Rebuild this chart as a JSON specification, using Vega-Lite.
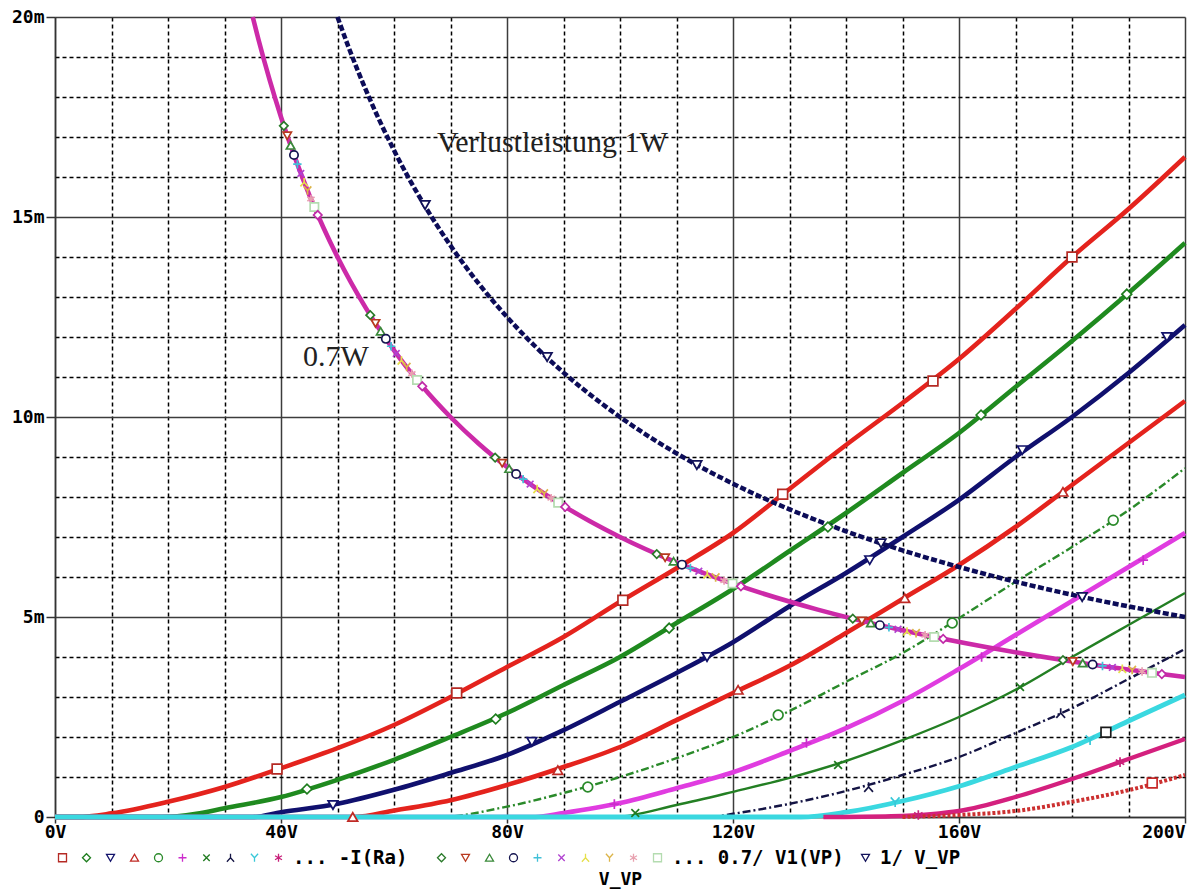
{
  "$schema": "https://vega.github.io/schema/vega-lite/v6.json",
  "width": 1130,
  "height": 800,
  "autosize": {"type": "none"},
  "padding": {"left": 55, "top": 17, "right": 6, "bottom": 77},
  "background": "white",
  "config": {"view": {"stroke": null}, "font": "DejaVu Sans Mono"},
  "datasets": {
    "curves": [
      {"s":"c1","V":0,"I":0},{"s":"c1","V":4,"I":0},{"s":"c1","V":10,"I":0.09},{"s":"c1","V":20,"I":0.38},{"s":"c1","V":30,"I":0.75},{"s":"c1","V":40,"I":1.22},{"s":"c1","V":50,"I":1.72},{"s":"c1","V":60,"I":2.3},{"s":"c1","V":70,"I":3.0},{"s":"c1","V":80,"I":3.75},{"s":"c1","V":90,"I":4.5},{"s":"c1","V":100,"I":5.38},{"s":"c1","V":110,"I":6.22},{"s":"c1","V":120,"I":7.1},{"s":"c1","V":130,"I":8.2},{"s":"c1","V":140,"I":9.3},{"s":"c1","V":150,"I":10.35},{"s":"c1","V":160,"I":11.45},{"s":"c1","V":170,"I":12.7},{"s":"c1","V":180,"I":14.0},{"s":"c1","V":190,"I":15.2},{"s":"c1","V":200,"I":16.5},
      {"s":"c2","V":0,"I":0},{"s":"c2","V":19,"I":0},{"s":"c2","V":25,"I":0.08},{"s":"c2","V":30,"I":0.22},{"s":"c2","V":40,"I":0.5},{"s":"c2","V":50,"I":0.93},{"s":"c2","V":60,"I":1.43},{"s":"c2","V":70,"I":2.0},{"s":"c2","V":80,"I":2.6},{"s":"c2","V":90,"I":3.3},{"s":"c2","V":100,"I":4.0},{"s":"c2","V":110,"I":4.85},{"s":"c2","V":120,"I":5.7},{"s":"c2","V":130,"I":6.65},{"s":"c2","V":140,"I":7.6},{"s":"c2","V":150,"I":8.6},{"s":"c2","V":160,"I":9.6},{"s":"c2","V":170,"I":10.75},{"s":"c2","V":180,"I":11.9},{"s":"c2","V":190,"I":13.1},{"s":"c2","V":200,"I":14.35},
      {"s":"c3","V":0,"I":0},{"s":"c3","V":35,"I":0},{"s":"c3","V":40,"I":0.12},{"s":"c3","V":50,"I":0.33},{"s":"c3","V":60,"I":0.68},{"s":"c3","V":70,"I":1.1},{"s":"c3","V":80,"I":1.55},{"s":"c3","V":90,"I":2.17},{"s":"c3","V":100,"I":2.88},{"s":"c3","V":110,"I":3.6},{"s":"c3","V":120,"I":4.37},{"s":"c3","V":130,"I":5.27},{"s":"c3","V":140,"I":6.1},{"s":"c3","V":150,"I":7.0},{"s":"c3","V":160,"I":7.93},{"s":"c3","V":170,"I":9.0},{"s":"c3","V":180,"I":10.0},{"s":"c3","V":190,"I":11.1},{"s":"c3","V":200,"I":12.3},
      {"s":"c4","V":0,"I":0},{"s":"c4","V":53,"I":0},{"s":"c4","V":60,"I":0.16},{"s":"c4","V":70,"I":0.42},{"s":"c4","V":80,"I":0.8},{"s":"c4","V":90,"I":1.25},{"s":"c4","V":100,"I":1.75},{"s":"c4","V":110,"I":2.42},{"s":"c4","V":120,"I":3.1},{"s":"c4","V":130,"I":3.78},{"s":"c4","V":140,"I":4.6},{"s":"c4","V":150,"I":5.45},{"s":"c4","V":160,"I":6.3},{"s":"c4","V":170,"I":7.25},{"s":"c4","V":180,"I":8.3},{"s":"c4","V":190,"I":9.35},{"s":"c4","V":200,"I":10.4},
      {"s":"c5","V":0,"I":0},{"s":"c5","V":68,"I":0},{"s":"c5","V":80,"I":0.26},{"s":"c5","V":90,"I":0.6},{"s":"c5","V":100,"I":1.0},{"s":"c5","V":110,"I":1.47},{"s":"c5","V":120,"I":2.0},{"s":"c5","V":130,"I":2.65},{"s":"c5","V":140,"I":3.38},{"s":"c5","V":150,"I":4.1},{"s":"c5","V":160,"I":4.97},{"s":"c5","V":170,"I":5.88},{"s":"c5","V":180,"I":6.75},{"s":"c5","V":190,"I":7.67},{"s":"c5","V":200,"I":8.72},
      {"s":"c6","V":0,"I":0},{"s":"c6","V":85,"I":0},{"s":"c6","V":90,"I":0.1},{"s":"c6","V":100,"I":0.35},{"s":"c6","V":110,"I":0.72},{"s":"c6","V":120,"I":1.12},{"s":"c6","V":130,"I":1.65},{"s":"c6","V":140,"I":2.22},{"s":"c6","V":150,"I":2.9},{"s":"c6","V":160,"I":3.7},{"s":"c6","V":170,"I":4.55},{"s":"c6","V":180,"I":5.4},{"s":"c6","V":190,"I":6.25},{"s":"c6","V":200,"I":7.1},
      {"s":"c7","V":0,"I":0},{"s":"c7","V":99,"I":0},{"s":"c7","V":110,"I":0.3},{"s":"c7","V":120,"I":0.63},{"s":"c7","V":130,"I":0.98},{"s":"c7","V":140,"I":1.4},{"s":"c7","V":150,"I":1.92},{"s":"c7","V":160,"I":2.5},{"s":"c7","V":170,"I":3.18},{"s":"c7","V":180,"I":4.0},{"s":"c7","V":190,"I":4.8},{"s":"c7","V":200,"I":5.6},
      {"s":"c8","V":0,"I":0},{"s":"c8","V":116,"I":0},{"s":"c8","V":120,"I":0.08},{"s":"c8","V":130,"I":0.33},{"s":"c8","V":140,"I":0.65},{"s":"c8","V":150,"I":1.05},{"s":"c8","V":160,"I":1.5},{"s":"c8","V":170,"I":2.1},{"s":"c8","V":180,"I":2.72},{"s":"c8","V":190,"I":3.45},{"s":"c8","V":200,"I":4.2},
      {"s":"c9","V":0,"I":0},{"s":"c9","V":132,"I":0},{"s":"c9","V":140,"I":0.12},{"s":"c9","V":150,"I":0.4},{"s":"c9","V":160,"I":0.77},{"s":"c9","V":170,"I":1.25},{"s":"c9","V":180,"I":1.75},{"s":"c9","V":190,"I":2.4},{"s":"c9","V":200,"I":3.05},
      {"s":"c10","V":136,"I":0},{"s":"c10","V":148,"I":0.02},{"s":"c10","V":155,"I":0.07},{"s":"c10","V":160,"I":0.15},{"s":"c10","V":170,"I":0.5},{"s":"c10","V":180,"I":0.95},{"s":"c10","V":190,"I":1.45},{"s":"c10","V":200,"I":1.95},
      {"s":"c11","V":150,"I":0},{"s":"c11","V":160,"I":0.05},{"s":"c11","V":170,"I":0.15},{"s":"c11","V":180,"I":0.38},{"s":"c11","V":190,"I":0.67},{"s":"c11","V":200,"I":1.05},
      {"s":"p11","V":35,"I":20},{"s":"p11","V":36,"I":19.444},{"s":"p11","V":38,"I":18.421},{"s":"p11","V":40,"I":17.5},{"s":"p11","V":42.5,"I":16.471},{"s":"p11","V":45,"I":15.556},{"s":"p11","V":47.5,"I":14.737},{"s":"p11","V":50,"I":14},{"s":"p11","V":55,"I":12.727},{"s":"p11","V":60,"I":11.667},{"s":"p11","V":65,"I":10.769},{"s":"p11","V":70,"I":10},{"s":"p11","V":75,"I":9.333},{"s":"p11","V":80,"I":8.75},{"s":"p11","V":90,"I":7.778},{"s":"p11","V":100,"I":7},{"s":"p11","V":110,"I":6.364},{"s":"p11","V":120,"I":5.833},{"s":"p11","V":135,"I":5.185},{"s":"p11","V":150,"I":4.667},{"s":"p11","V":165,"I":4.242},{"s":"p11","V":180,"I":3.889},{"s":"p11","V":200,"I":3.5},
      {"s":"w","V":50,"I":20},{"s":"w","V":52,"I":19.231},{"s":"w","V":55,"I":18.182},{"s":"w","V":60,"I":16.667},{"s":"w","V":65,"I":15.385},{"s":"w","V":70,"I":14.286},{"s":"w","V":75,"I":13.333},{"s":"w","V":80,"I":12.5},{"s":"w","V":90,"I":11.111},{"s":"w","V":100,"I":10},{"s":"w","V":110,"I":9.091},{"s":"w","V":120,"I":8.333},{"s":"w","V":130,"I":7.692},{"s":"w","V":140,"I":7.143},{"s":"w","V":150,"I":6.667},{"s":"w","V":165,"I":6.061},{"s":"w","V":180,"I":5.556},{"s":"w","V":200,"I":5}
    ],
    "markers": [
      {"s":"c1","V":39.3,"I":1.2},{"s":"c1","V":71.1,"I":3.1},{"s":"c1","V":100.5,"I":5.42},{"s":"c1","V":128.8,"I":8.07},{"s":"c1","V":155.4,"I":10.9},{"s":"c1","V":180,"I":14.0},
      {"s":"c2","V":44.6,"I":0.7},{"s":"c2","V":78,"I":2.45},{"s":"c2","V":108.7,"I":4.72},{"s":"c2","V":136.8,"I":7.25},{"s":"c2","V":163.9,"I":10.05},{"s":"c2","V":189.7,"I":13.07},
      {"s":"c3","V":49.2,"I":0.3},{"s":"c3","V":84.4,"I":1.88},{"s":"c3","V":115.4,"I":4.0},{"s":"c3","V":144.2,"I":6.42},{"s":"c3","V":171.2,"I":9.17},{"s":"c3","V":196.8,"I":12.0},
      {"s":"c4","V":52.7,"I":0},{"s":"c4","V":89,"I":1.17},{"s":"c4","V":120.9,"I":3.18},{"s":"c4","V":150.4,"I":5.47},{"s":"c4","V":178.4,"I":8.13},
      {"s":"c5","V":94.3,"I":0.75},{"s":"c5","V":128,"I":2.55},{"s":"c5","V":158.8,"I":4.85},{"s":"c5","V":187.3,"I":7.42},
      {"s":"c6","V":99,"I":0.32},{"s":"c6","V":133,"I":1.85},{"s":"c6","V":164,"I":4.0},{"s":"c6","V":192.6,"I":6.42},
      {"s":"c7","V":102.7,"I":0.1},{"s":"c7","V":138.6,"I":1.3},{"s":"c7","V":170.8,"I":3.25},
      {"s":"c8","V":144,"I":0.75},{"s":"c8","V":178,"I":2.6},
      {"s":"c9","V":148.7,"I":0.37},{"s":"c9","V":183.2,"I":1.92},
      {"s":"c10","V":152.8,"I":0.05},{"s":"c10","V":188.5,"I":1.37},
      {"s":"c11","V":194.2,"I":0.85},
      {"s":"blk","V":186,"I":2.12},
      {"s":"w","V":65.5,"I":15.3},{"s":"w","V":87.1,"I":11.5},{"s":"w","V":113.6,"I":8.8},{"s":"w","V":146.2,"I":6.84},{"s":"w","V":181.8,"I":5.5},
      {"s":"p1","V":40.5,"I":17.28},{"s":"p2","V":41.1,"I":17.03},{"s":"p3","V":41.7,"I":16.79},{"s":"p4","V":42.3,"I":16.55},{"s":"p5","V":42.9,"I":16.32},{"s":"p6","V":43.5,"I":16.09},{"s":"p7","V":44.1,"I":15.87},{"s":"p8","V":44.7,"I":15.66},{"s":"p9","V":45.3,"I":15.45},{"s":"p10","V":45.9,"I":15.25},{"s":"p11","V":46.5,"I":15.05},
      {"s":"p1","V":55.8,"I":12.545},{"s":"p2","V":56.72,"I":12.341},{"s":"p3","V":57.64,"I":12.144},{"s":"p4","V":58.56,"I":11.954},{"s":"p5","V":59.48,"I":11.769},{"s":"p6","V":60.4,"I":11.589},{"s":"p7","V":61.32,"I":11.415},{"s":"p8","V":62.24,"I":11.247},{"s":"p9","V":63.16,"I":11.083},{"s":"p10","V":64.08,"I":10.924},{"s":"p11","V":65.0,"I":10.769},
      {"s":"p1","V":77.9,"I":8.986},{"s":"p2","V":79.14,"I":8.845},{"s":"p3","V":80.38,"I":8.709},{"s":"p4","V":81.62,"I":8.576},{"s":"p5","V":82.86,"I":8.448},{"s":"p6","V":84.1,"I":8.323},{"s":"p7","V":85.34,"I":8.203},{"s":"p8","V":86.58,"I":8.085},{"s":"p9","V":87.82,"I":7.971},{"s":"p10","V":89.06,"I":7.86},{"s":"p11","V":90.3,"I":7.752},
      {"s":"p1","V":106.5,"I":6.573},{"s":"p2","V":107.99,"I":6.482},{"s":"p3","V":109.48,"I":6.394},{"s":"p4","V":110.97,"I":6.308},{"s":"p5","V":112.46,"I":6.224},{"s":"p6","V":113.95,"I":6.143},{"s":"p7","V":115.44,"I":6.064},{"s":"p8","V":116.93,"I":5.986},{"s":"p9","V":118.42,"I":5.911},{"s":"p10","V":119.91,"I":5.838},{"s":"p11","V":121.4,"I":5.766},
      {"s":"p1","V":141.2,"I":4.958},{"s":"p2","V":142.8,"I":4.902},{"s":"p3","V":144.4,"I":4.848},{"s":"p4","V":146.0,"I":4.795},{"s":"p5","V":147.6,"I":4.743},{"s":"p6","V":149.2,"I":4.692},{"s":"p7","V":150.8,"I":4.642},{"s":"p8","V":152.4,"I":4.593},{"s":"p9","V":154.0,"I":4.545},{"s":"p10","V":155.6,"I":4.499},{"s":"p11","V":157.2,"I":4.453},
      {"s":"p1","V":178.4,"I":3.924},{"s":"p2","V":180.15,"I":3.886},{"s":"p3","V":181.9,"I":3.848},{"s":"p4","V":183.65,"I":3.812},{"s":"p5","V":185.4,"I":3.776},{"s":"p6","V":187.15,"I":3.74},{"s":"p7","V":188.9,"I":3.706},{"s":"p8","V":190.65,"I":3.672},{"s":"p9","V":192.4,"I":3.638},{"s":"p10","V":194.15,"I":3.605},{"s":"p11","V":195.9,"I":3.573}
    ],
    "notes": [
      {"V":67.6,"I":16.625,"label":"Verlustleistung 1W"},
      {"V":43.9,"I":11.275,"label":"0.7W"}
    ]
  },
  "encoding": {
    "x": {
      "field": "V", "type": "quantitative",
      "scale": {"domain": [0, 200], "nice": false, "zero": false},
      "axis": {
        "values": [0,10,20,30,40,50,60,70,80,90,100,110,120,130,140,150,160,170,180,190,200],
        "labelExpr": "datum.value % 40 === 0 ? datum.value + 'V' : ''",
        "labelFont": "DejaVu Sans Mono", "labelFontWeight": "bold", "labelFontSize": 18, "labelColor": "black",
        "labelAlign": {"condition": {"test": "datum.value === 200", "value": "right"}, "value": "center"},
        "labelBaseline": "top", "labelPadding": 0, "labelOverlap": false, "labelFlush": false, "labelBound": false,
        "tickSize": {"condition": {"test": "datum.value % 40 === 0", "value": 6}, "value": 0},
        "tickColor": "#333333", "tickWidth": 1.5,
        "grid": true,
        "gridColor": {"condition": {"test": "datum.value % 40 === 0", "value": "#3c3c3c"}, "value": "#000000"},
        "gridDash": {"condition": {"test": "datum.value % 40 === 0", "value": []}, "value": [4, 3]},
        "gridWidth": 1.5, "gridOpacity": 1,
        "domain": true, "domainColor": "#333333", "domainWidth": 1.5,
        "title": "V_VP", "titleFont": "DejaVu Sans Mono", "titleFontWeight": "bold", "titleFontSize": 18, "titleColor": "black", "titlePadding": 29
      }
    },
    "y": {
      "field": "I", "type": "quantitative",
      "scale": {"domain": [0, 20], "nice": false, "zero": false},
      "axis": {
        "values": [0,1,2,3,4,5,6,7,8,9,10,11,12,13,14,15,16,17,18,19,20],
        "labelExpr": "datum.value % 5 === 0 ? (datum.value === 0 ? '0' : datum.value + 'm') : ''",
        "labelFont": "DejaVu Sans Mono", "labelFontWeight": "bold", "labelFontSize": 18, "labelColor": "black",
        "labelPadding": 2, "labelOverlap": false, "labelFlush": false, "labelBound": false,
        "tickSize": {"condition": {"test": "datum.value % 5 === 0", "value": 9}, "value": 0},
        "tickColor": "#333333", "tickWidth": 1.5,
        "grid": true,
        "gridColor": {"condition": {"test": "datum.value % 5 === 0", "value": "#3c3c3c"}, "value": "#000000"},
        "gridDash": {"condition": {"test": "datum.value % 5 === 0", "value": []}, "value": [4, 3]},
        "gridWidth": 1.5, "gridOpacity": 1,
        "domain": true, "domainColor": "#333333", "domainWidth": 1.5,
        "title": null
      }
    }
  },
  "layer": [
    {
      "data": {"name": "curves"},
      "transform": [{"filter": {"field": "s", "oneOf": ["c5", "c8"]}}],
      "mark": {"type": "line", "interpolate": "monotone", "strokeWidth": 2.4, "strokeDash": [8, 3, 2, 3]},
      "encoding": {"color": {"field": "s", "type": "nominal", "scale": {"domain": ["c5", "c8"], "range": ["#2a8a2a", "#141444"]}, "legend": null}}
    },
    {
      "data": {"name": "curves"},
      "transform": [{"filter": {"field": "s", "equal": "c7"}}],
      "mark": {"type": "line", "interpolate": "monotone", "strokeWidth": 2.4, "color": "#237f23"},
      "encoding": {}
    },
    {
      "data": {"name": "curves"},
      "transform": [{"filter": {"field": "s", "oneOf": ["c1", "c2", "c3", "c4", "c6"]}}],
      "mark": {"type": "line", "interpolate": "monotone", "strokeWidth": 4.6},
      "encoding": {"color": {"field": "s", "type": "nominal", "scale": {"domain": ["c1", "c2", "c3", "c4", "c6"], "range": ["#e4231d", "#1f8a1f", "#10106e", "#e4231d", "#e03ce0"]}, "legend": null}}
    },
    {
      "data": {"name": "curves"},
      "transform": [{"filter": {"field": "s", "equal": "c9"}}],
      "mark": {"type": "line", "interpolate": "monotone", "strokeWidth": 4.8, "color": "#3ad8e0"},
      "encoding": {}
    },
    {
      "data": {"name": "curves"},
      "transform": [{"filter": {"field": "s", "equal": "c10"}}],
      "mark": {"type": "line", "interpolate": "monotone", "strokeWidth": 4.4, "color": "#d4207e"},
      "encoding": {}
    },
    {
      "data": {"name": "curves"},
      "transform": [{"filter": {"field": "s", "equal": "c11"}}],
      "mark": {"type": "line", "interpolate": "monotone", "strokeWidth": 4, "strokeDash": [3, 2], "color": "#cc3030"},
      "encoding": {}
    },
    {
      "data": {"name": "curves"},
      "transform": [{"filter": {"field": "s", "equal": "p11"}}],
      "mark": {"type": "line", "interpolate": "monotone", "strokeWidth": 4.6, "color": "#cc2aa8"},
      "encoding": {}
    },
    {
      "data": {"name": "curves"},
      "transform": [{"filter": {"field": "s", "equal": "w"}}],
      "mark": {"type": "line", "interpolate": "monotone", "strokeWidth": 4.5, "strokeDash": [6, 2.5], "color": "#0c0c58"},
      "encoding": {}
    },
    {
      "data": {"name": "markers"},
      "mark": {"type": "point", "filled": false, "fill": "white", "strokeWidth": 1.7, "opacity": 1},
      "encoding": {
        "size": {"condition": {"test": "datum.s[0] === 'p'", "value": 70}, "value": 95},
        "color": {
          "field": "s", "type": "nominal",
          "scale": {
            "domain": ["c1","c2","c3","c4","c5","c6","c7","c8","c9","c10","c11","blk","p1","p2","p3","p4","p5","p6","p7","p8","p9","p10","p11","w","sp"],
            "range": ["#b52a24","#1d7d1d","#12126b","#c02a25","#2a8a2a","#cc2ccc","#1f7a1f","#151545","#38c8d8","#c8207a","#c82828","#1a1a1a","#2a7a2a","#b83a20","#3a8a3a","#151550","#40c0d8","#b040d0","#e6e04a","#dcb448","#e8a2b0","#b4dcb0","#c02aa8","#12125a","#ffffff"]
          },
          "legend": {
            "orient": "none", "legendX": -2, "legendY": 831, "direction": "horizontal", "columns": 22,
            "title": null,
            "values": ["c1","c2","c3","c4","c5","c6","c7","c8","c9","c10","sp","p1","p2","p3","p4","p5","p6","p7","p8","p9","p10","w"],
            "labelExpr": "datum.value === 'c10' ? '... -I(Ra)' : datum.value === 'p10' ? '... 0.7/  V1(VP)' : datum.value === 'w' ? '1/ V_VP' : ''",
            "symbolSize": 64, "symbolStrokeWidth": 1.3,
            "labelFont": "DejaVu Sans Mono", "labelFontWeight": "bold", "labelFontSize": 19, "labelColor": "black",
            "labelOffset": 5, "columnPadding": -1.2, "padding": 0, "rowPadding": 0, "labelLimit": 0
          }
        },
        "shape": {
          "field": "s", "type": "nominal",
          "scale": {
            "domain": ["c1","c2","c3","c4","c5","c6","c7","c8","c9","c10","c11","blk","p1","p2","p3","p4","p5","p6","p7","p8","p9","p10","p11","w","sp"],
            "range": ["square","diamond","triangle-down","triangle-up","circle","M-1,0L1,0M0,-1L0,1","M-0.8,-0.8L0.8,0.8M-0.8,0.8L0.8,-0.8","M0,-1L0,0M0,0L-0.9,1M0,0L0.9,1","M-0.9,-1L0,0M0.9,-1L0,0M0,0L0,1","M0,-1L0,1M-0.87,-0.5L0.87,0.5M-0.87,0.5L0.87,-0.5","square","square","diamond","triangle-down","triangle-up","circle","M-1,0L1,0M0,-1L0,1","M-0.8,-0.8L0.8,0.8M-0.8,0.8L0.8,-0.8","M0,-1L0,0M0,0L-0.9,1M0,0L0.9,1","M-0.9,-1L0,0M0.9,-1L0,0M0,0L0,1","M0,-1L0,1M-0.87,-0.5L0.87,0.5M-0.87,0.5L0.87,-0.5","square","diamond","triangle-down","M0,0L0,0"]
          },
          "legend": {
            "orient": "none", "legendX": -2, "legendY": 831, "direction": "horizontal", "columns": 22,
            "title": null,
            "values": ["c1","c2","c3","c4","c5","c6","c7","c8","c9","c10","sp","p1","p2","p3","p4","p5","p6","p7","p8","p9","p10","w"],
            "labelExpr": "datum.value === 'c10' ? '... -I(Ra)' : datum.value === 'p10' ? '... 0.7/  V1(VP)' : datum.value === 'w' ? '1/ V_VP' : ''",
            "symbolSize": 64, "symbolStrokeWidth": 1.3,
            "labelFont": "DejaVu Sans Mono", "labelFontWeight": "bold", "labelFontSize": 19, "labelColor": "black",
            "labelOffset": 5, "columnPadding": -1.2, "padding": 0, "rowPadding": 0, "labelLimit": 0
          }
        }
      }
    },
    {
      "data": {"name": "notes"},
      "mark": {"type": "text", "font": "Liberation Serif", "fontSize": 30, "align": "left", "baseline": "alphabetic", "color": "#222222"},
      "encoding": {"text": {"field": "label", "type": "nominal"}}
    }
  ],
  "resolve": {"scale": {"color": "independent", "shape": "independent"}}
}
